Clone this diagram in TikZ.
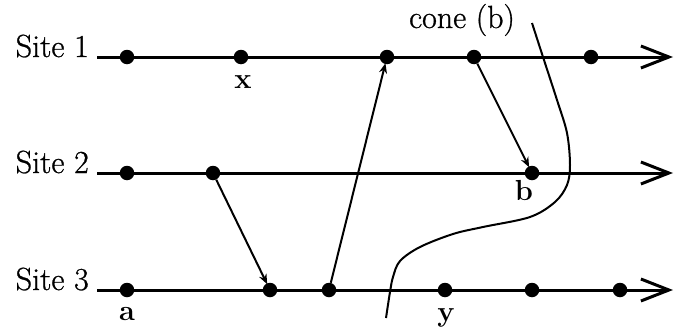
\documentclass[tikz,border=0pt]{standalone}
\usepackage{fontspec}
\newfontfamily\scanfont{Latin Modern Roman}[FakeBold=0.8]
\usetikzlibrary{arrows.meta}
\begin{document}
\begin{tikzpicture}[x=1pt,y=-1pt,
  ev/.style={circle,fill=black,inner sep=0pt,minimum size=14.5pt},
  site/.style={line width=3pt,-{Straight Barb[length=28pt,width=22pt,line width=3pt]}},
  msg/.style={line width=2pt,-{Stealth[length=10pt,width=8pt]},shorten >=-1pt},
  sitelab/.style={anchor=base east,inner sep=0pt,font=\fontsize{32}{36}\selectfont\scanfont},
  evlab/.style={inner sep=0pt,font=\fontsize{29}{32}\selectfont\bfseries},
  cone/.style={line width=2pt}]
\useasboundingbox (0,0) rectangle (675,332);
% site lines
\coordinate (s1a) at (97,57);  \coordinate (s1b) at (673,57);
\coordinate (s2a) at (97,173); \coordinate (s2b) at (673,173);
\coordinate (s3a) at (97,290); \coordinate (s3b) at (673,290);
\draw[site] (s1a) -- (s1b);
\draw[site] (s2a) -- (s2b);
\draw[site] (s3a) -- (s3b);
\node[sitelab] (l1) at (89,57) {Site 1};
\node[sitelab] (l2) at (89,173) {Site 2};
\node[sitelab] (l3) at (89,290) {Site 3};
% events
\node[ev] (e11) at (127,57) {};
\node[ev] (x)   at (241,57) {};
\node[ev] (e13) at (387,57) {};
\node[ev] (e14) at (474,57) {};
\node[ev] (e15) at (591,57) {};
\node[ev] (e21) at (127,173) {};
\node[ev] (e22) at (213,173) {};
\node[ev] (b)   at (532,173) {};
\node[ev] (a)   at (127,290) {};
\node[ev] (e32) at (270,290) {};
\node[ev] (e33) at (329,290) {};
\node[ev] (y)   at (445,290) {};
\node[ev] (e35) at (532,290) {};
\node[ev] (e36) at (620,290) {};
% messages
\draw[msg] (e22) -- (e32);
\draw[msg] (e33) -- (e13);
\draw[msg] (e14) -- (b);
% labels
\node[evlab] (lx) at (243,82) {x};
\node[evlab] (lb) at (524,191) {b};
\node[evlab] (la) at (127,314) {a};
\node[evlab] (ly) at (446,318) {y};
\node[inner sep=0pt,font=\fontsize{32}{36}\selectfont\scanfont] (lc) at (462,20) {cone (b)};
% cone boundary
\draw[cone] plot[smooth,tension=0.55] coordinates {(532,23) (543,57) (557,100) (567,133) (570,165) (567,185) (555,202) (530,217) (483,227) (453,234) (420,247) (400,261) (393,277) (390,292) (386,318)};
\end{tikzpicture}
\end{document}
